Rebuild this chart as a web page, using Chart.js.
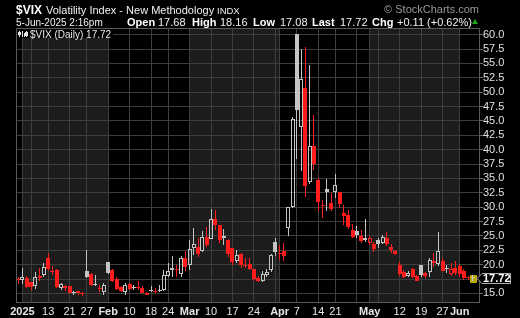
<!DOCTYPE html>
<html>
<head>
<meta charset="utf-8">
<script src="https://cdn.jsdelivr.net/npm/chart.js@4.4.1/dist/chart.umd.min.js"></script>
<style>
  html, body { margin: 0; padding: 0; background: #000; }
  #wrap { position: relative; width: 520px; height: 318px; overflow: hidden;
          font-family: "Liberation Sans", Arial, sans-serif; color: #f0f0f0; }
  #wrap canvas { position: absolute; left: 0; top: 0; }
  .t { position: absolute; line-height: 1; white-space: nowrap; font-size: 11px; }
  .b { font-weight: bold; color: #fff; }
  .up { position: absolute; left: 472px; top: 19px; width: 0; height: 0;
        border-left: 3.5px solid transparent; border-right: 3.5px solid transparent;
        border-bottom: 5px solid #1fa51f; }
</style>
</head>
<body>
<div id="wrap">
  <canvas id="vixChart" width="520" height="318"></canvas>
  <span class="t b" style="left:16px;top:4px;font-size:12px">$VIX</span>
  <span class="t" style="left:46px;top:5px">Volatility Index - New Methodology</span>
  <span class="t" style="left:217px;top:6px;font-size:9.5px">INDX</span>
  <span class="t" style="right:41px;top:4px;color:#9a9a9a">© StockCharts.com</span>
  <span class="t" style="left:16px;top:17.5px;font-size:10px">5-Jun-2025 2:16pm</span>
  <span class="t b" style="left:127px;top:17px">Open</span>
  <span class="t" style="left:158px;top:17px">17.68</span>
  <span class="t b" style="left:192px;top:17px">High</span>
  <span class="t" style="left:220px;top:17px">18.16</span>
  <span class="t b" style="left:253px;top:17px">Low</span>
  <span class="t" style="left:280px;top:17px">17.08</span>
  <span class="t b" style="left:312px;top:17px">Last</span>
  <span class="t" style="left:340px;top:17px">17.72</span>
  <span class="t b" style="left:372px;top:17px">Chg</span>
  <span class="t" style="left:397px;top:17px">+0.11 (+0.62%)</span>
  <div class="up"></div>
</div>
<script>
// trading days, Dec 31 2024 .. Jun 5 2025
const dates = [
  "2024-12-31",
  "2025-01-02","2025-01-03","2025-01-06","2025-01-07","2025-01-08","2025-01-10","2025-01-13","2025-01-14","2025-01-15","2025-01-16",
  "2025-01-17","2025-01-21","2025-01-22","2025-01-23","2025-01-24","2025-01-27","2025-01-28","2025-01-29","2025-01-30","2025-01-31",
  "2025-02-03","2025-02-04","2025-02-05","2025-02-06","2025-02-07","2025-02-10","2025-02-11","2025-02-12","2025-02-13","2025-02-14",
  "2025-02-18","2025-02-19","2025-02-20","2025-02-21","2025-02-24","2025-02-25","2025-02-26","2025-02-27","2025-02-28",
  "2025-03-03","2025-03-04","2025-03-05","2025-03-06","2025-03-07","2025-03-10","2025-03-11","2025-03-12","2025-03-13","2025-03-14",
  "2025-03-17","2025-03-18","2025-03-19","2025-03-20","2025-03-21","2025-03-24","2025-03-25","2025-03-26","2025-03-27","2025-03-28","2025-03-31",
  "2025-04-01","2025-04-02","2025-04-03","2025-04-04","2025-04-07","2025-04-08","2025-04-09","2025-04-10","2025-04-11","2025-04-14",
  "2025-04-15","2025-04-16","2025-04-17","2025-04-21","2025-04-22","2025-04-23","2025-04-24","2025-04-25","2025-04-28","2025-04-29","2025-04-30",
  "2025-05-01","2025-05-02","2025-05-05","2025-05-06","2025-05-07","2025-05-08","2025-05-09","2025-05-12","2025-05-13","2025-05-14",
  "2025-05-15","2025-05-16","2025-05-19","2025-05-20","2025-05-21","2025-05-22","2025-05-23","2025-05-27","2025-05-28","2025-05-29","2025-05-30",
  "2025-06-02","2025-06-03","2025-06-04","2025-06-05"
];

const open = [
  17.5,
  17.25, 17.7, 16.9, 16.3, 18.0, 18.2, 21.1, 18.9, 19.1, 15.9, 16.3, 16.3, 15.0, 15.35, 15.1, 18.95, 18.4, 16.45, 16.0, 15.3,
  20.45, 19.0, 17.5, 16.05, 15.3, 16.6, 16.1, 16.05, 16.0, 15.1, 15.6, 15.3, 15.4, 15.6, 18.0, 19.0, 19.2, 18.3, 21.1,
  19.9, 22.9, 23.0, 22.4, 24.8, 24.5, 27.9, 26.95, 25.0, 24.3, 22.9, 20.7, 21.85, 19.85, 20.1, 19.2, 17.7, 17.2, 18.2, 19.0, 24.0,
  21.9, 22.3, 26.3, 30.0, 60.1, 44.0, 50.8, 34.3, 40.7, 34.7, 30.2, 33.1, 30.7, 32.7, 32.6, 28.9, 28.6, 26.1, 25.8, 24.9, 24.2,
  23.8, 23.6, 24.3, 23.8, 24.6, 23.0, 22.4, 19.9, 18.8, 18.0, 19.2, 18.0, 19.9, 18.6, 18.8, 20.7, 20.1, 20.7, 19.5, 18.4, 19.5,
  19.75, 18.9, 17.7, 17.68
];
const high = [
  17.9,
  19.5, 18.0, 17.0, 18.8, 19.5, 20.2, 22.0, 19.8, 19.2, 16.8, 16.4, 16.3, 15.4, 15.5, 15.2, 22.5, 18.5, 18.2, 16.4, 16.8,
  20.5, 19.2, 17.8, 16.3, 16.8, 16.8, 16.5, 17.1, 16.2, 15.3, 16.2, 15.9, 16.5, 19.1, 20.2, 21.5, 20.0, 21.5, 22.4,
  24.3, 26.4, 24.6, 25.8, 26.6, 29.6, 29.55, 26.95, 26.2, 24.5, 22.9, 22.5, 22.0, 21.2, 21.1, 19.3, 18.0, 18.9, 19.2, 21.9, 24.7,
  23.5, 23.75, 30.1, 45.6, 60.13, 57.5, 57.8, 54.8, 46.0, 35.0, 31.3, 34.9, 32.4, 35.75, 32.7, 30.4, 29.5, 27.1, 26.8, 26.0, 28.0,
  25.0, 24.0, 24.6, 25.1, 25.7, 23.6, 22.6, 20.5, 19.1, 18.9, 19.5, 18.2, 20.0, 18.8, 21.1, 22.0, 25.6, 21.1, 20.0, 20.2, 20.6,
  20.1, 19.2, 18.0, 18.16
];
const low = [
  16.6,
  16.7, 15.9, 15.6, 15.7, 17.2, 17.9, 18.9, 18.2, 15.9, 15.6, 15.4, 15.0, 14.7, 14.7, 14.6, 17.6, 16.2, 16.2, 15.2, 14.8,
  18.4, 17.0, 15.6, 15.2, 14.7, 15.6, 15.6, 15.6, 15.0, 14.7, 15.3, 15.0, 15.3, 15.5, 17.8, 17.9, 17.9, 17.9, 18.9,
  19.1, 21.7, 21.3, 22.2, 23.0, 24.4, 26.1, 23.8, 23.5, 21.3, 20.0, 20.3, 19.4, 19.4, 19.0, 17.2, 16.9, 16.9, 17.9, 18.8, 21.5,
  20.8, 20.6, 24.9, 29.8, 38.4, 36.3, 31.8, 34.0, 36.5, 29.3, 28.1, 29.4, 29.3, 31.6, 29.8, 26.9, 26.2, 24.6, 24.6, 23.7, 24.0,
  23.5, 22.2, 22.9, 23.6, 23.3, 22.0, 21.6, 18.1, 17.7, 17.8, 17.6, 17.1, 17.9, 17.7, 17.8, 19.6, 19.8, 18.9, 18.6, 18.0, 18.2,
  17.9, 17.4, 17.4, 17.08
];
const close = [
  17.35,
  17.93, 16.13, 16.04, 17.82, 17.70, 19.54, 19.19, 18.71, 16.12, 16.60, 15.97, 15.06, 15.10, 15.02, 14.85, 17.90, 16.41, 16.56, 15.84, 16.43,
  18.62, 17.21, 15.77, 15.50, 16.54, 15.81, 16.02, 15.89, 15.10, 14.77, 15.35, 15.27, 15.66, 18.21, 18.98, 19.43, 19.10, 21.13, 19.63,
  22.78, 23.51, 21.93, 24.87, 23.37, 27.86, 26.92, 24.23, 24.66, 21.77, 20.51, 21.70, 19.90, 19.80, 19.28, 17.48, 17.15, 18.33, 18.69, 21.65, 22.28,
  21.77, 21.51, 30.02, 45.31, 46.98, 52.33, 33.62, 40.72, 37.56, 30.89, 30.12, 32.64, 29.65, 33.82, 30.57, 28.45, 26.47, 24.84, 25.15, 24.17, 24.70,
  24.60, 22.68, 23.64, 24.76, 23.55, 22.48, 21.90, 18.39, 17.80, 18.62, 17.83, 17.24, 18.14, 18.09, 20.87, 20.28, 22.29, 18.96, 19.31, 19.18, 18.57,
  18.36, 17.69, 17.61, 17.72
];

const xTickDates = ["2025-01-02","2025-01-13","2025-01-21","2025-01-27","2025-02-03","2025-02-10","2025-02-18","2025-02-24",
  "2025-03-03","2025-03-10","2025-03-17","2025-03-24","2025-04-01","2025-04-07","2025-04-14","2025-04-21",
  "2025-05-01","2025-05-12","2025-05-19","2025-05-27","2025-06-02"];
const xTickText = ["2025","13","21","27","Feb","10","18","24","Mar","10","17","24","Apr","7","14","21","May","12","19","27","Jun"];
const yTicks = [15, 17.5, 20, 22.5, 25, 27.5, 30, 32.5, 35, 37.5, 40, 42.5, 45, 47.5, 50, 52.5, 55, 57.5, 60];

const FONT = '"Liberation Sans", Arial, sans-serif';
const RED = "#ff1c1c";
const GREY = "#c4c4c4";
const GRID = "#3e3e3e";
const SHADE = "#1c1c1c";

const n = dates.length;
const labels = dates.concat([""]); // spare slot at the right edge

const tickAt = {};
xTickDates.forEach((d, k) => { tickAt[dates.indexOf(d)] = xTickText[k]; });

// grid on first trading day of each week and each month
const gridAt = new Set();
const monthStarts = [0];
dates.forEach((d, i) => {
  if (i === 0) return;
  const wd = new Date(d + "T12:00:00").getDay();
  const pwd = new Date(dates[i - 1] + "T12:00:00").getDay();
  const newMonth = d.slice(5, 7) !== dates[i - 1].slice(5, 7);
  if (newMonth) monthStarts.push(i);
  if (wd < pwd || newMonth) gridAt.add(i);
});

const hollow = close.map((c, i) => c >= open[i]);
const gain = close.map((c, i) => i === 0 ? c >= open[i] : c >= close[i - 1]);
const lineCol = gain.map(g => g ? GREY : RED);
const fillCol = hollow.map((h, i) => h ? "rgba(0,0,0,0)" : lineCol[i]);

// snap bars to whole pixels so candles stay crisp
const pixelSnap = {
  id: "pixelSnap",
  afterDatasetUpdate(chart, args) {
    const isBody = args.index === 0;
    args.meta.data.forEach(el => {
      const w = el.width;
      el.x = Math.round(el.x - w / 2) + w / 2;
      el.y = Math.round(el.y);
      el.base = Math.round(el.base);
      if (isBody && Math.abs(el.base - el.y) < 1) el.base = el.y + 1;
    });
  }
};

const chartDecor = {
  id: "chartDecor",
  beforeDraw(chart) {
    const { ctx, chartArea: a, scales: { x } } = chart;
    ctx.save();
    ctx.fillStyle = "#000";
    ctx.fillRect(0, 0, chart.width, chart.height);
    ctx.fillStyle = SHADE;
    monthStarts.forEach((s, k) => {
      const m = +dates[s].slice(5, 7) - 1;
      if (dates[s].startsWith("2024") || m % 2) return;
      const x0 = Math.round(x.getPixelForValue(s));
      const x1 = k + 1 < monthStarts.length ? Math.round(x.getPixelForValue(monthStarts[k + 1])) : a.right;
      ctx.fillRect(x0, a.top, x1 - x0, a.bottom - a.top);
    });
    ctx.restore();
  },
  beforeDatasetsDraw(chart) {
    // highlight of the current bar
    const { ctx, scales: { x, y } } = chart;
    const cx = x.getPixelForValue(n - 1);
    const top = y.getPixelForValue(high[n - 1]);
    const bot = y.getPixelForValue(low[n - 1]);
    ctx.save();
    ctx.fillStyle = "#b9a800";
    ctx.fillRect(Math.round(cx) - 3, Math.round(top), 7, Math.round(bot - top) + 2);
    ctx.restore();
  },
  afterDraw(chart) {
    const { ctx, chartArea: a, scales: { y } } = chart;
    ctx.save();
    // frame
    ctx.strokeStyle = "#5a5a5a";
    ctx.lineWidth = 1;
    ctx.beginPath();
    ctx.moveTo(a.left + 0.5, a.bottom);
    ctx.lineTo(a.left + 0.5, a.top + 0.5);
    ctx.lineTo(a.right, a.top + 0.5);
    ctx.stroke();

    // legend
    ctx.fillStyle = "#000";
    ctx.fillRect(a.left + 1, a.top + 1, 96, 9);
    ctx.fillStyle = "#e8e8e8";
    ctx.fillRect(19, 31, 1, 6);
    ctx.fillRect(18, 32, 3, 3);
    ctx.fillRect(22, 31, 1, 6);
    ctx.fillRect(24, 33, 1, 4);
    ctx.fillRect(25, 32, 3, 4);
    ctx.fillRect(26, 31, 1, 6);
    ctx.font = "10px " + FONT;
    ctx.textBaseline = "alphabetic";
    ctx.fillText("$VIX (Daily) 17.72", 30, 37.5);

    // last price tag
    const py = Math.round(y.getPixelForValue(close[n - 1])) + 0.5;
    ctx.beginPath();
    ctx.moveTo(477, py);
    ctx.lineTo(482, py - 5);
    ctx.lineTo(510.5, py - 5);
    ctx.lineTo(510.5, py + 5);
    ctx.lineTo(482, py + 5);
    ctx.closePath();
    ctx.fillStyle = "#000";
    ctx.fill();
    ctx.strokeStyle = "#b0b0b0";
    ctx.stroke();
    ctx.fillStyle = "#fff";
    ctx.font = "bold 11px " + FONT;
    ctx.textBaseline = "middle";
    ctx.fillText(close[n - 1].toFixed(2), 483, py + 0.5);
    ctx.restore();
  }
};

new Chart(document.getElementById("vixChart"), {
  type: "bar",
  data: {
    labels: labels,
    datasets: [
      {
        label: "body",
        data: open.map((o, i) => [o, close[i]]),
        backgroundColor: fillCol,
        borderColor: lineCol,
        borderWidth: 1,
        borderSkipped: false,
        barThickness: 4,
        minBarLength: 1,
        inflateAmount: 0,
        grouped: false
      },
      {
        label: "upper wick",
        data: high.map((h, i) => [Math.max(open[i], close[i]), h]),
        backgroundColor: lineCol,
        barThickness: 1,
        inflateAmount: 0,
        grouped: false
      },
      {
        label: "lower wick",
        data: low.map((l, i) => [l, Math.min(open[i], close[i])]),
        backgroundColor: lineCol,
        barThickness: 1,
        inflateAmount: 0,
        grouped: false
      }
    ]
  },
  options: {
    responsive: false,
    animation: false,
    devicePixelRatio: 1,
    layout: { padding: { left: 16, top: 28, right: 0, bottom: 0 } },
    plugins: { legend: { display: false }, tooltip: { enabled: false } },
    scales: {
      x: {
        type: "category",
        offset: true,
        grid: {
          offset: false,
          drawTicks: false,
          color: c => gridAt.has(c.index) ? GRID : "rgba(0,0,0,0)"
        },
        border: { color: "#5a5a5a" },
        ticks: {
          autoSkip: false,
          maxRotation: 0,
          minRotation: 0,
          padding: 3,
          color: "#e6e6e6",
          font: c => ({ family: FONT, size: 11, weight: /^(\d{4}|[A-Z])/.test(tickAt[c.index] || "") ? "bold" : "normal" }),
          callback: (v, i) => tickAt[i] || ""
        },
        afterFit: s => { s.height = 16; }
      },
      y: {
        position: "right",
        min: 13.5,
        max: 61.17,
        grid: { color: GRID, tickColor: "#6a6a6a", tickLength: 4 },
        border: { color: "#5a5a5a" },
        ticks: {
          autoSkip: false,
          padding: 0,
          color: "#e0e0e0",
          font: { family: FONT, size: 11 },
          callback: v => Number(v).toFixed(1)
        },
        afterBuildTicks: s => { s.ticks = yTicks.map(v => ({ value: v })); },
        afterFit: s => { s.width = 41; }
      }
    }
  },
  plugins: [pixelSnap, chartDecor]
});
</script>
</body>
</html>
